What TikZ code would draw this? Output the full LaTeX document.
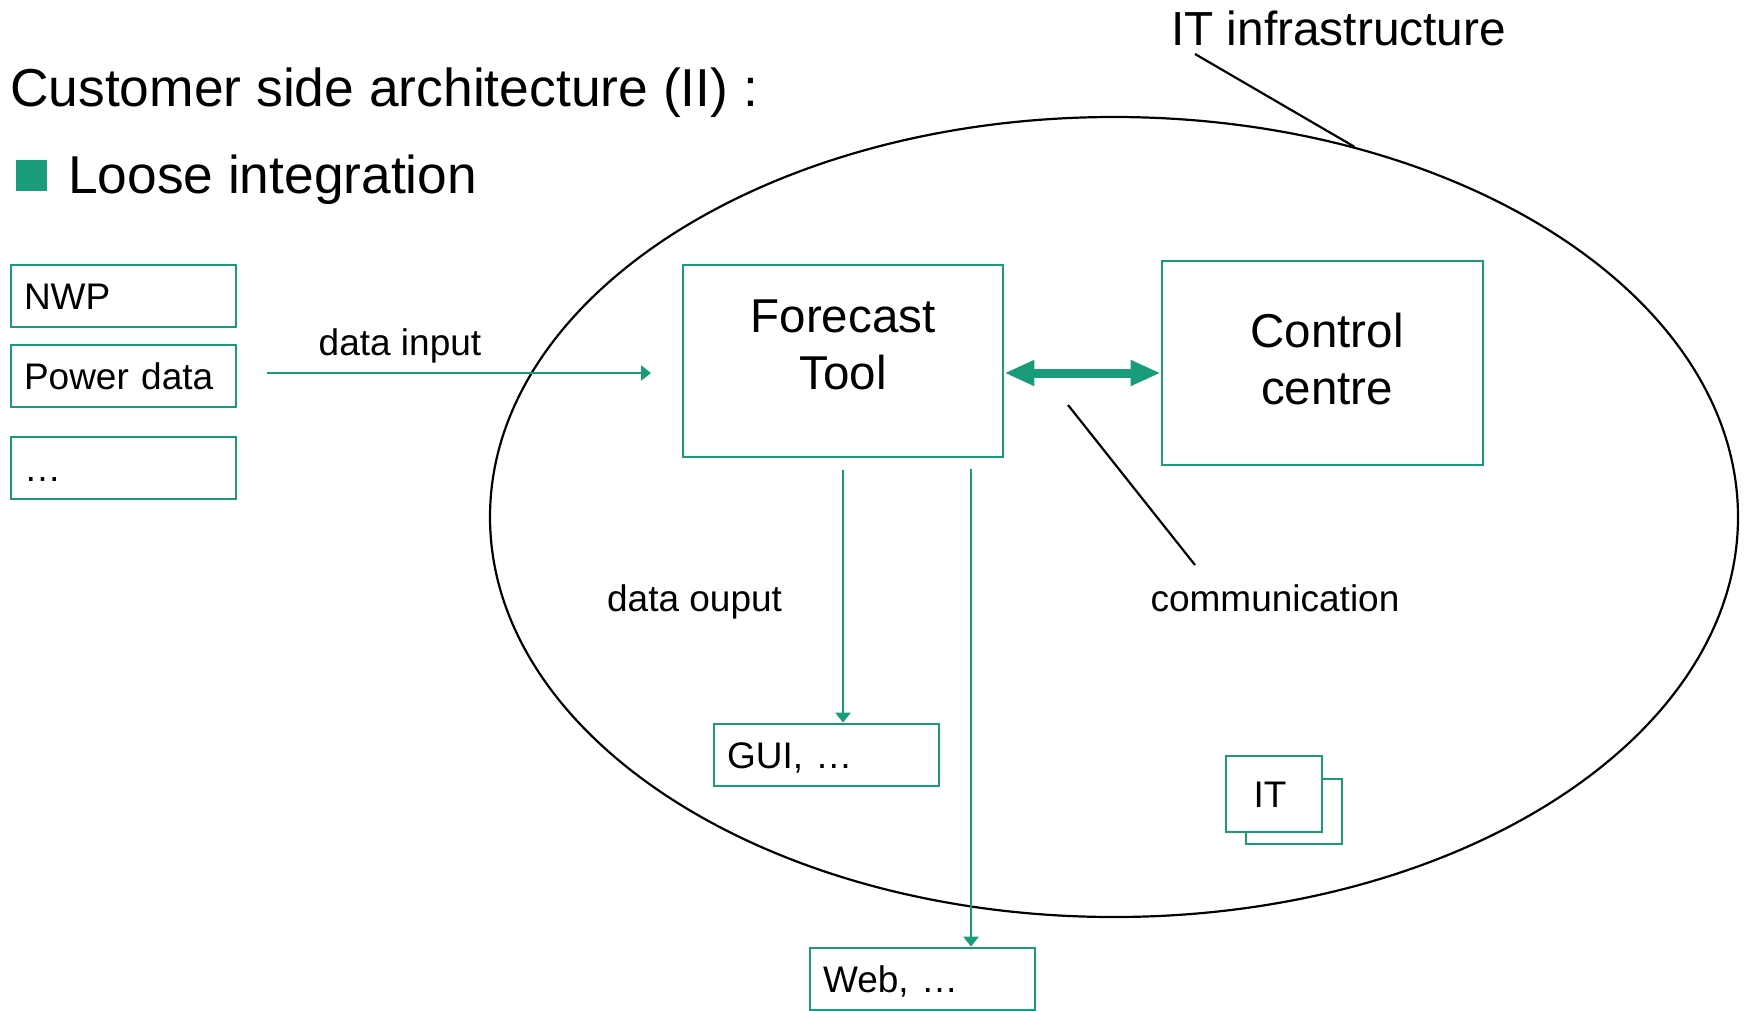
\documentclass[tikz,border=0pt]{standalone}
\usepackage{fontspec}
\setmainfont{Liberation Sans}
\usetikzlibrary{shapes.geometric,arrows.meta,calc}
\definecolor{tgreen}{RGB}{26,155,122}
\begin{document}
\begin{tikzpicture}[x=1pt,y=-1pt,
  gline/.style={draw=tgreen, line width=2.8pt},
  sbox/.style={gline, rectangle, inner ysep=0pt, inner xsep=13pt, minimum height=62pt, text width=199pt, align=left, text height=26.5pt, text depth=0pt, font=\fontsize{37}{44}\selectfont},
  bigbox/.style={gline, rectangle, inner sep=0pt},
  lbl/.style={inner sep=0pt, font=\fontsize{37}{44}\selectfont},
  biglbl/.style={inner sep=0pt, align=center, font=\fontsize{47.5}{57}\selectfont},
  garrow/.style={draw=tgreen, line width=2.4pt, -{Triangle[length=10pt,width=15pt]}},
  dblarrow/.style={draw=tgreen, line width=9pt, {Triangle[length=30pt,width=24pt]}-{Triangle[length=30pt,width=24pt]}},
  leader/.style={draw=black, line width=2.2pt}
]
\useasboundingbox (0,0) rectangle (1744,1010);
\fill[white] (0,0) rectangle (1744,1010);

% titles
\node[inner sep=0pt, anchor=base west, font=\fontsize{53.4}{60}\selectfont] (title) at (10,106) {Customer side architecture (II) :};
\node[fill=tgreen, inner sep=0pt, minimum size=31pt] (bullet) at (31.5,175.5) {};
\node[inner sep=0pt, anchor=base west, font=\fontsize{53.3}{60}\selectfont] (loose) at (68,193) {Loose integration};

% IT infrastructure ellipse
\node[draw=black, line width=2.2pt, ellipse, inner sep=0pt, minimum width=1248pt, minimum height=800pt] (itinf) at (1114,517) {};
\node[inner sep=0pt, anchor=base west, font=\fontsize{47.8}{56}\selectfont] (itl) at (1171,45) {IT infrastructure};
\coordinate (itlA) at (1195,54);
\draw[leader] (itlA) -- (itinf.57);

% input boxes
\node[sbox] (nwp) at (123.5,296) {NWP};
\node[sbox] (pow) at (123.5,376) {Power data};
\node[sbox] (etc) at (123.5,468) {…};

% data input
\coordinate (dinA) at (267,373);
\coordinate (dinB) at (651,373);
\draw[garrow] (dinA) -- (dinB);
\node[lbl, anchor=base] (dinl) at (400,355) {data input};

% forecast tool and control centre
\node[bigbox, minimum width=320pt, minimum height=192pt] (ft) at (843,361) {};
\node[biglbl] (ftl) at (843,345) {Forecast\\Tool};
\node[bigbox, minimum width=321pt, minimum height=204pt] (cc) at (1322.5,363) {};
\node[biglbl] (ccl) at (1327,359) {Control\\centre};
\draw[dblarrow] ([yshift=-12pt]ft.east) -- ([yshift=-10pt]cc.west);

% communication
\coordinate (comA) at (1068,405);
\coordinate (comB) at (1195,565);
\draw[leader] (comA) -- (comB);
\node[lbl, anchor=base] (coml) at (1275,611) {communication};

% outputs
\node[lbl, anchor=base] (doutl) at (694.6,611) {data ouput};
\node[sbox] (gui) at (826.5,755) {GUI, …};
\node[sbox] (web) at (922.5,979) {Web, …};
\draw[garrow] ([yshift=-12pt]ft.south) -- (ft.south |- gui.north);
\coordinate (wA) at (971,469);
\draw[garrow] (wA) -- (wA |- web.north);

% IT stack
\node[bigbox, minimum width=96pt, minimum height=65pt, fill=white] (itback) at (1294,811.5) {};
\node[bigbox, minimum width=96pt, minimum height=76pt, fill=white, text height=26.5pt, text depth=0pt, font=\fontsize{37}{44}\selectfont] (itfront) at (1274,794) {\hspace*{-8pt}IT};
\end{tikzpicture}
\end{document}
